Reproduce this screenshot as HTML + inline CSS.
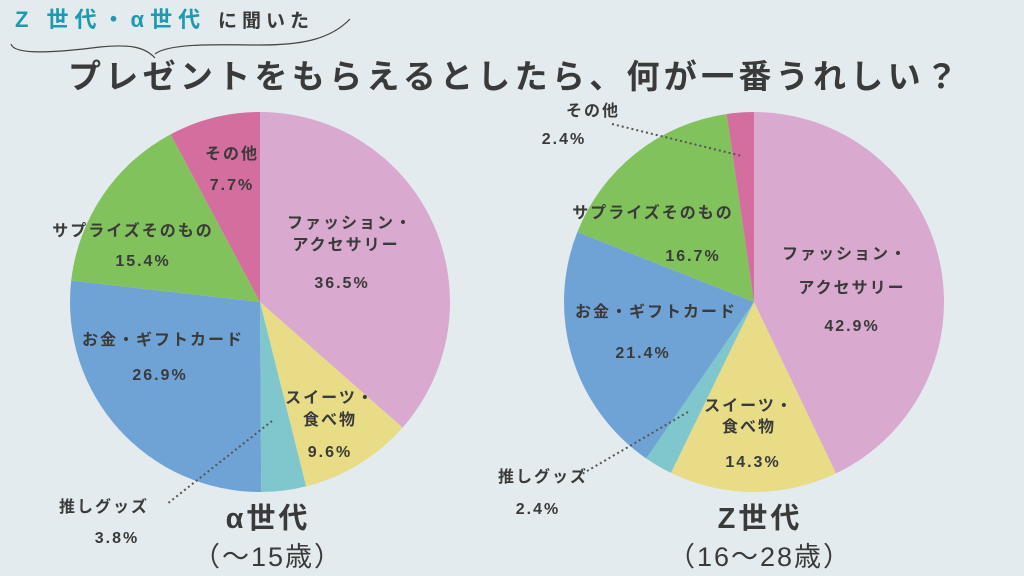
<!DOCTYPE html>
<html><head><meta charset="utf-8"><style>
html,body{margin:0;padding:0;background:#e3ebee;}
svg{display:block}
text{font-family:"Liberation Sans","Noto Sans CJK JP",sans-serif;fill:#3a3a3a;font-weight:bold;}
</style></head><body>
<svg id="s" width="1024" height="576" viewBox="0 0 1024 576">
<rect width="1024" height="576" fill="#e3ebee"/>
<g id="p1"></g><g id="p2"></g>
<text x="15" y="27" font-size="22" letter-spacing="6" style="fill:#1e9ab0">Z 世代・α世代</text>
<text x="218" y="27" font-size="19" letter-spacing="5">に聞いた</text>
<path d="M11,44 C14,56 60,52 100,47 C130,44 145,47 155,58 M155,54 C170,42 230,45 260,45 C300,45 330,40 350,19" fill="none" stroke="#444" stroke-width="1.2"/>
<text x="68" y="88" font-size="33" letter-spacing="4.3">プレゼントをもらえるとしたら、何が一番うれしい？</text>
<g font-size="16" letter-spacing="2" text-anchor="middle">
<text x="232" y="159">その他</text><text x="232" y="190">7.7%</text>
<text x="133" y="236">サプライズそのもの</text><text x="143" y="266">15.4%</text>
<text x="350" y="228">ファッション・</text><text x="346" y="250">アクセサリー</text><text x="342" y="288">36.5%</text>
<text x="163" y="345">お金・ギフトカード</text><text x="160" y="380">26.9%</text>
<text x="330" y="403">スイーツ・</text><text x="330" y="425">食べ物</text><text x="330" y="457">9.6%</text>
<text x="104" y="512">推しグッズ</text><text x="117" y="543">3.8%</text>
<text x="593" y="116">その他</text><text x="564" y="144">2.4%</text>
<text x="653" y="218">サプライズそのもの</text><text x="693" y="261">16.7%</text>
<text x="845" y="259">ファッション・</text><text x="852" y="293">アクセサリー</text><text x="852" y="331">42.9%</text>
<text x="656" y="317">お金・ギフトカード</text><text x="643" y="358">21.4%</text>
<text x="749" y="411">スイーツ・</text><text x="749" y="432">食べ物</text><text x="753" y="467">14.3%</text>
<text x="543" y="482">推しグッズ</text><text x="538" y="514">2.4%</text>
</g>
<g stroke="#555" stroke-width="2" stroke-dasharray="2,3" fill="none">
<path d="M272,421 L167,504"/><path d="M612,124 L742,156"/><path d="M688,412 L582,474"/>
</g>
<g text-anchor="middle">
<text x="268" y="528" font-size="29" letter-spacing="3">α世代</text>
<text x="268" y="566" font-size="27" letter-spacing="2" style="font-weight:normal">（〜15歳）</text>
<text x="760" y="528" font-size="29" letter-spacing="3">Z世代</text>
<text x="760" y="566" font-size="27" letter-spacing="2" style="font-weight:normal">（16〜28歳）</text>
</g>
</svg>
<script>
var cols=["#d9a9cf","#e8dc87","#7fc7cc","#6fa3d6","#82c25c","#d46e9e"];
function pie(id,cx,cy,r,v){var g=document.getElementById(id),a=0,h="";
for(var i=0;i<v.length;i++){var a2=a+v[i]/100*2*Math.PI;
var x1=cx+r*Math.sin(a),y1=cy-r*Math.cos(a),x2=cx+r*Math.sin(a2),y2=cy-r*Math.cos(a2);
h+='<path d="M'+cx+','+cy+' L'+x1+','+y1+' A'+r+','+r+' 0 '+(a2-a>Math.PI?1:0)+' 1 '+x2+','+y2+' Z" fill="'+cols[i]+'"/>';a=a2;}
g.innerHTML=h;}
pie("p1",260,302,190,[36.5,9.6,3.8,26.9,15.4,7.8]);
pie("p2",754,302,190,[42.9,14.3,2.4,21.4,16.7,2.3]);
</script>
</body></html>
